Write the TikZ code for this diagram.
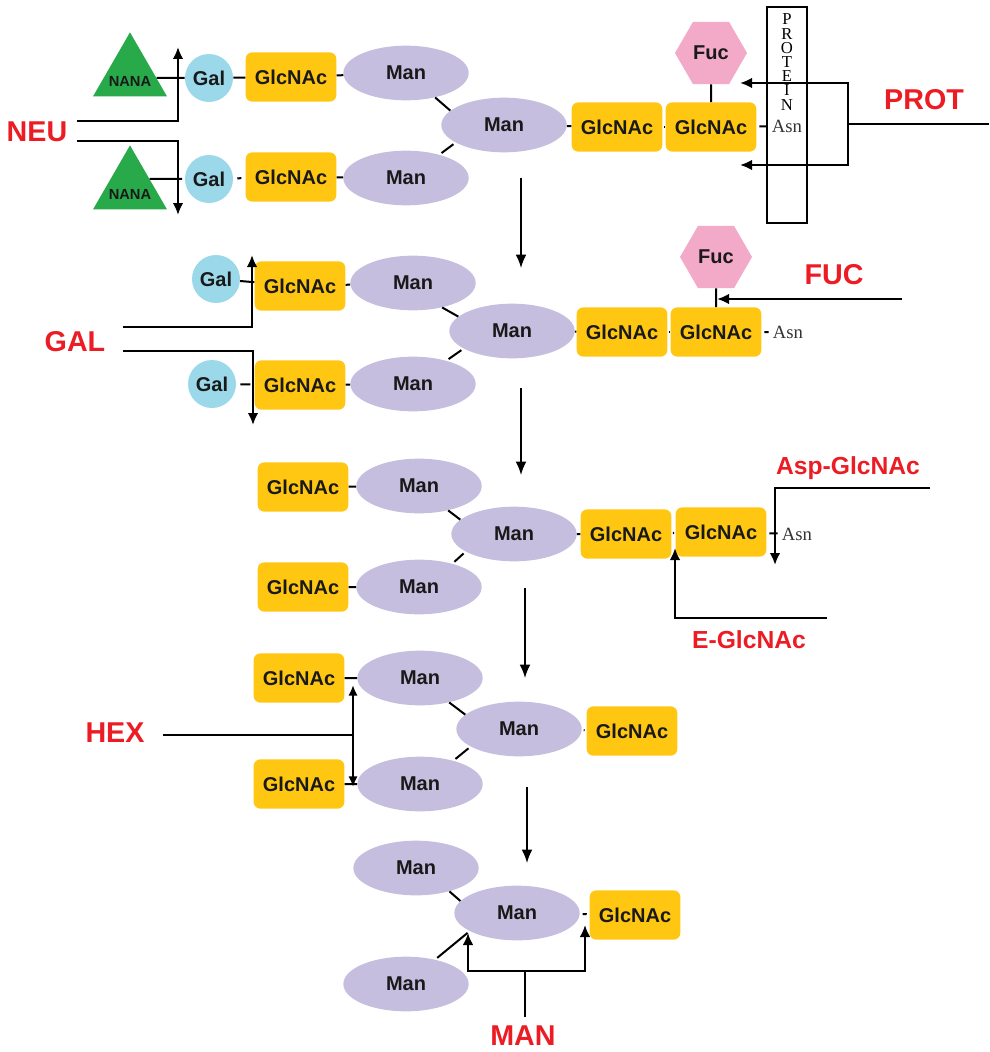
\documentclass[tikz,border=0pt]{standalone}
\usepackage{fontspec}
\setmainfont{Liberation Sans}
\newfontfamily\asnfont{Liberation Serif}
\usetikzlibrary{shapes.geometric,arrows.meta}

\definecolor{manlilac}{RGB}{197,190,222}
\definecolor{glcgold}{RGB}{255,199,18}
\definecolor{galblue}{RGB}{155,216,234}
\definecolor{nanagreen}{RGB}{40,170,75}
\definecolor{fucpink}{RGB}{242,170,200}
\definecolor{labelred}{RGB}{236,28,36}

\tikzset{
  sugar/.style={inner sep=0pt,text=black!90,font=\bfseries\fontsize{15}{17}\selectfont},
  man/.style={sugar,ellipse,fill=manlilac,minimum width=94pt,minimum height=41pt},
  glc/.style={sugar,rectangle,rounded corners=5pt,fill=glcgold,minimum width=68pt,minimum height=37pt},
  gal/.style={sugar,circle,fill=galblue,minimum size=36pt},
  fuc/.style={sugar,regular polygon,regular polygon sides=6,fill=fucpink,minimum size=54pt},
  nana/.style={regular polygon,regular polygon sides=3,fill=nanagreen,minimum size=64pt,inner sep=0pt},
  nanatext/.style={text=black!90,font=\bfseries\fontsize{11}{12}\selectfont},
  asn/.style={inner sep=1pt,text=black!80,font=\asnfont\fontsize{14}{16}\selectfont},
  protletter/.style={inner sep=0pt,text height=8.5pt,text depth=0pt,font=\asnfont\fontsize{12.5}{13}\selectfont},
  enzyme/.style={text=labelred,font=\bfseries\fontsize{21.5}{24}\selectfont},
  enzymesmall/.style={enzyme,font=\bfseries\fontsize{18.5}{21}\selectfont},
  link/.style={line width=1.5pt,shorten <=2pt,shorten >=2pt},
  route/.style={line width=2pt},
  thinroute/.style={line width=1.6pt},
  headed/.style={-{Latex[length=9pt,width=8pt]}},
  flow/.style={line width=1.1pt,-{Latex[length=10pt,width=8pt]}}
}

\begin{document}
\begin{tikzpicture}[x=0.75pt,y=-0.75pt]
\useasboundingbox (0,0) rectangle (989,1052);
% row 1
\node[nana,label={[nanatext,yshift=-5pt]center:NANA}] (nanaA) at (130,75) {};
\node[nana,label={[nanatext,yshift=-5pt]center:NANA}] (nanaB) at (130,188) {};
\node[gal] (galA) at (209,78) {Gal};
\node[gal] (galB) at (209,179) {Gal};
\node[glc] (glcA1) at (291,77) {GlcNAc};
\node[glc] (glcB1) at (291,177) {GlcNAc};
\node[man] (manA1) at (406,73) {Man};
\node[man] (manB1) at (406,178) {Man};
\node[man] (manC1) at (504,125) {Man};
\node[glc] (glcC1) at (617,127) {GlcNAc};
\node[glc] (glcD1) at (711,127) {GlcNAc};
\node[fuc] (fuc1) at (711,53) {Fuc};
\node[asn] (asn1) at (787,126) {Asn};
\node[draw,line width=1.5pt,minimum width=30pt,minimum height=162pt,inner sep=0pt] (protein) at (787,115) {};
\foreach \ch [count=\i] in {P,R,O,T,E,I,N}
  \node[protletter] (prot\i) at (787,5+14.2*\i) {\ch};
\draw[link,shorten <=0pt] (nanaA.-6) -- (galA) (nanaB.25) -- (galB);
\draw[link,shorten <=3pt,shorten >=3pt] (galA) -- (glcA1) (galB) -- (glcB1);
\draw[link] (glcA1) -- (manA1) (glcB1) -- (manB1) (manC1) -- (glcC1) (glcD1) -- (asn1);
\draw[link,shorten <=1pt,shorten >=1pt] (glcC1) -- (glcD1);
\draw[link] (manA1.-40) -- (manC1.165) (manB1.35) -- (manC1.200);
\draw[link,shorten <=0pt,shorten >=0pt] (fuc1) -- (glcD1);
\node[enzyme] (neulab) at (37,132) {NEU};
\coordinate (neuA) at (77,121);
\coordinate (neuUp) at (178,47);
\coordinate (neuB) at (77,141);
\coordinate (neuDown) at (178,215);
\draw[route,headed] (neuA) -| (neuUp);
\draw[route,headed] (neuB) -| (neuDown);
\node[enzyme] (protlab) at (924,100) {PROT};
\coordinate (protIn) at (989,124);
\coordinate (protFork) at (848,124);
\coordinate (protUp) at (740,83);
\coordinate (protDown) at (740,165);
\draw[route] (protIn) -- (protFork);
\draw[route,headed] (protFork) |- (protUp);
\draw[route,headed] (protFork) |- (protDown);
\coordinate (stepA) at (521,178);
\coordinate (stepB) at (521,268);
\draw[flow] (stepA) -- (stepB);
% row 2
\node[gal] (galA2) at (216,279) {Gal};
\node[gal] (galB2) at (212,384) {Gal};
\node[glc] (glcA2) at (300,286) {GlcNAc};
\node[glc] (glcB2) at (300,385) {GlcNAc};
\node[man] (manA2) at (413,283) {Man};
\node[man] (manB2) at (413,384) {Man};
\node[man] (manC2) at (512,331) {Man};
\node[glc] (glcC2) at (622,332) {GlcNAc};
\node[glc] (glcD2) at (716,332) {GlcNAc};
\node[fuc] (fuc2) at (716,257) {Fuc};
\node[asn] (asn2) at (788,332) {Asn};
\draw[link,shorten <=3pt,shorten >=3pt] (galA2) -- (glcA2) (galB2) -- (glcB2);
\draw[link] (glcA2) -- (manA2) (glcB2) -- (manB2) (manC2) -- (glcC2) (glcD2) -- (asn2);
\draw[link,shorten <=1pt,shorten >=1pt] (glcC2) -- (glcD2);
\draw[link] (manA2.-40) -- (manC2.165) (manB2.35) -- (manC2.200);
\draw[link,shorten <=0pt,shorten >=0pt] (fuc2) -- (glcD2);
\node[enzyme] (gallab) at (75,342) {GAL};
\coordinate (galInA) at (123,327);
\coordinate (galUp) at (252,255);
\coordinate (galInB) at (123,351);
\coordinate (galDown) at (253,425);
\draw[route,headed] (galInA) -| (galUp);
\draw[route,headed] (galInB) -| (galDown);
\node[enzyme] (fuclab) at (834,275) {FUC};
\coordinate (fucIn) at (902,299);
\coordinate (fucTip) at (717,299);
\draw[route,headed] (fucIn) -- (fucTip);
\coordinate (stepC) at (521,388);
\coordinate (stepD) at (521,475);
\draw[flow] (stepC) -- (stepD);
% row 3
\node[glc] (glcA3) at (303,487) {GlcNAc};
\node[glc] (glcB3) at (303,587) {GlcNAc};
\node[man] (manA3) at (419,486) {Man};
\node[man] (manB3) at (419,587) {Man};
\node[man] (manC3) at (514,534) {Man};
\node[glc] (glcC3) at (626,534) {GlcNAc};
\node[glc] (glcD3) at (721,532) {GlcNAc};
\node[asn] (asn3) at (797,534) {Asn};
\draw[link] (glcA3) -- (manA3) (glcB3) -- (manB3) (manC3) -- (glcC3) (glcD3) -- (asn3);
\draw[link,shorten <=1pt,shorten >=1pt] (glcC3) -- (glcD3);
\draw[link] (manA3.-40) -- (manC3.165) (manB3.35) -- (manC3.200);
\node[enzymesmall] (asplab) at (848,468) {Asp-GlcNAc};
\coordinate (aspIn) at (930,488);
\coordinate (aspTip) at (775,565);
\draw[route,headed] (aspIn) -| (aspTip);
\node[enzymesmall] (elab) at (749,640) {E-GlcNAc};
\coordinate (eIn) at (827,618);
\coordinate (eTip) at (675,548);
\draw[route,headed] (eIn) -| (eTip);
\coordinate (stepE) at (525,588);
\coordinate (stepF) at (525,678);
\draw[flow] (stepE) -- (stepF);
% row 4
\node[glc] (glcA4) at (299,678) {GlcNAc};
\node[glc] (glcB4) at (299,784) {GlcNAc};
\node[man] (manA4) at (420,678) {Man};
\node[man] (manB4) at (420,784) {Man};
\node[man] (manC4) at (519,729) {Man};
\node[glc] (glcC4) at (632,731) {GlcNAc};
\draw[link] (glcA4) -- (manA4) (glcB4) -- (manB4) (manC4) -- (glcC4);
\draw[link] (manA4.-40) -- (manC4.165) (manB4.35) -- (manC4.200);
\node[enzyme] (hexlab) at (115,733) {HEX};
\coordinate (hexIn) at (163,735);
\coordinate (hexFork) at (353,735);
\coordinate (hexUp) at (353,685);
\coordinate (hexDown) at (353,787);
\draw[thinroute] (hexIn) -- (hexFork);
\draw[thinroute,{Latex[length=8pt,width=7pt]}-{Latex[length=8pt,width=7pt]}] (hexUp) -- (hexDown);
\coordinate (stepG) at (527,787);
\coordinate (stepH) at (527,863);
\draw[flow] (stepG) -- (stepH);
% row 5
\node[man] (manA5) at (416,868) {Man};
\node[man] (manC5) at (517,913) {Man};
\node[man] (manB5) at (406,984) {Man};
\node[glc] (glcC5) at (635,915) {GlcNAc};
\draw[link] (manC5) -- (glcC5);
\draw[link] (manA5.-35) -- (manC5.168) (manB5.40) -- (manC5.201);
\node[enzyme] (manlab) at (523,1036) {MAN};
\coordinate (manStem) at (525,1017);
\coordinate (manFork) at (525,971);
\coordinate (manL) at (468,933);
\coordinate (manR) at (585,925);
\draw[thinroute] (manStem) -- (manFork);
\draw[thinroute,headed] (manFork) -| (manL);
\draw[thinroute,headed] (manFork) -| (manR);
\end{tikzpicture}
\end{document}
